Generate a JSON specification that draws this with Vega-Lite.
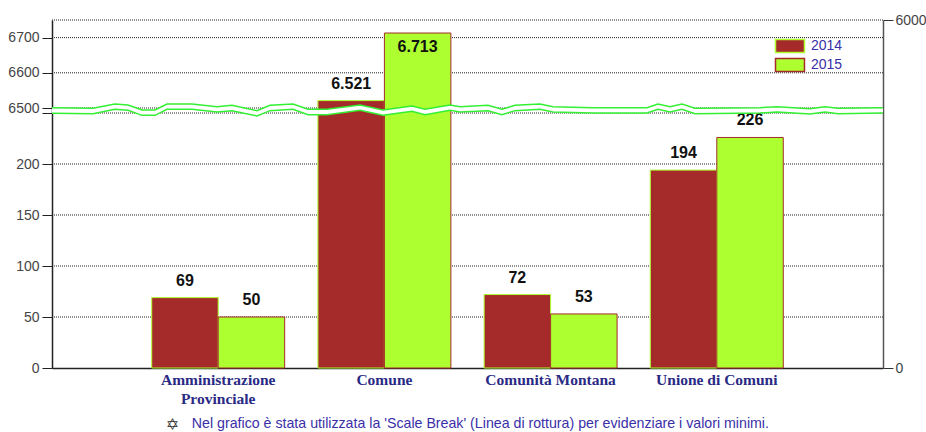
{"$schema":"https://vega.github.io/schema/vega-lite/v6.json","width":831,"height":348,"autosize":"none","padding":{"left":52,"top":20,"right":43,"bottom":64},"background":"white","view":{"stroke":null},"title":{"text":"Nel grafico è stata utilizzata la 'Scale Break' (Linea di rottura) per evidenziare i valori minimi.","orient":"bottom","anchor":"start","dx":184,"offset":-15,"font":"Liberation Sans","fontSize":14.2,"fontWeight":"normal","color":"#3a2fa8"},"datasets":{"bars":[{"categoria":"Amministrazione Provinciale","anno":"2014","valore":69,"etichetta":"69"},{"categoria":"Amministrazione Provinciale","anno":"2015","valore":50,"etichetta":"50"},{"categoria":"Comune","anno":"2014","valore":6521,"etichetta":"6.521"},{"categoria":"Comune","anno":"2015","valore":6713,"etichetta":"6.713"},{"categoria":"Comunità Montana","anno":"2014","valore":72,"etichetta":"72"},{"categoria":"Comunità Montana","anno":"2015","valore":53,"etichetta":"53"},{"categoria":"Unione di Comuni","anno":"2014","valore":194,"etichetta":"194"},{"categoria":"Unione di Comuni","anno":"2015","valore":226,"etichetta":"226"}],"griglia":[{"g":50},{"g":100},{"g":150},{"g":200},{"g":250},{"g":6500},{"g":6600},{"g":6700},{"g":6750}],"rottura":[{"pos":52,"top":4488,"bot":4391},{"pos":93,"top":4477,"bot":4385},{"pos":115,"top":4552,"bot":4460},{"pos":128,"top":4534,"bot":4442},{"pos":142,"top":4448,"bot":4356},{"pos":155,"top":4448,"bot":4356},{"pos":167,"top":4552,"bot":4460},{"pos":192,"top":4552,"bot":4460},{"pos":217,"top":4506,"bot":4414},{"pos":232,"top":4529,"bot":4437},{"pos":257,"top":4437,"bot":4345},{"pos":270,"top":4529,"bot":4437},{"pos":293,"top":4552,"bot":4460},{"pos":308,"top":4460,"bot":4368},{"pos":327,"top":4460,"bot":4368},{"pos":360,"top":4534,"bot":4442},{"pos":383,"top":4448,"bot":4356},{"pos":412,"top":4517,"bot":4425},{"pos":425,"top":4460,"bot":4368},{"pos":450,"top":4534,"bot":4442},{"pos":460,"top":4506,"bot":4414},{"pos":488,"top":4529,"bot":4437},{"pos":502,"top":4460,"bot":4368},{"pos":515,"top":4529,"bot":4437},{"pos":540,"top":4552,"bot":4460},{"pos":553,"top":4506,"bot":4414},{"pos":593,"top":4488,"bot":4396},{"pos":647,"top":4488,"bot":4396},{"pos":658,"top":4552,"bot":4460},{"pos":670,"top":4506,"bot":4414},{"pos":682,"top":4552,"bot":4460},{"pos":695,"top":4477,"bot":4385},{"pos":760,"top":4488,"bot":4396},{"pos":777,"top":4506,"bot":4414},{"pos":810,"top":4471,"bot":4379},{"pos":825,"top":4506,"bot":4414},{"pos":838,"top":4477,"bot":4385},{"pos":883,"top":4488,"bot":4396}]},"layer":[{"layer":[{"data":{"name":"griglia"},"mark":{"type":"rule","stroke":"#222222","strokeWidth":1,"strokeDash":[1,1]},"encoding":{"y":{"field":"g","type":"quantitative","title":null,"scale":{"domain":[0,250,6500,6750],"range":[348,93,88,0],"nice":false},"axis":{"orient":"left","values":[0,50,100,150,200,250,6500,6600,6700],"labelExpr":"datum.value==250?'':format(datum.value,'d')","grid":false,"tickSize":10,"tickColor":"#222222","domainColor":"#222222","domainWidth":1.5,"labelPadding":3,"labelFont":"Liberation Sans","labelFontSize":14,"labelColor":"#444444"}}}},{"data":{"name":"bars"},"mark":{"type":"bar","strokeWidth":1},"encoding":{"x":{"field":"categoria","type":"nominal","sort":null,"scale":{"paddingInner":0,"paddingOuter":0.5},"axis":{"title":"✡","titleX":120,"titleY":48,"titleFont":"DejaVu Sans","titleFontSize":16,"titleFontWeight":"bold","titleColor":"#333333","labelAngle":0,"labelAlign":"center","labelOverlap":false,"labelLimit":300,"ticks":false,"domainColor":"#222222","domainWidth":1.5,"labelPadding":4,"labelFont":"Liberation Serif","labelFontWeight":"bold","labelFontSize":15.5,"labelLineHeight":19,"labelColor":"#2a2a85","labelExpr":"datum.value=='Amministrazione Provinciale'?['Amministrazione','Provinciale']:datum.label"}},"xOffset":{"field":"anno","type":"nominal","scale":{"paddingInner":0,"paddingOuter":0.25}},"y":{"field":"valore","type":"quantitative","title":null},"fill":{"field":"anno","type":"nominal","scale":{"domain":["2014","2015"],"range":["#A52A2A","#ADFF2F"]},"legend":{"orient":"none","legendX":730,"legendY":18,"title":null,"symbolType":"M-2,-0.9H2V0.9H-2Z","symbolSize":210,"symbolStrokeWidth":1.5,"symbolOpacity":1,"rowPadding":-1,"labelOffset":13,"labelFont":"Liberation Sans","labelFontSize":14,"labelColor":"#3a2fa8","encode":{"symbols":{"update":{"stroke":{"signal":"datum.value=='2015'?'#333333':'#A52A2A'"}}}}}},"stroke":{"field":"anno","type":"nominal","scale":{"domain":["2014","2015"],"range":["#ADFF2F","#A52A2A"]},"legend":null}}},{"data":{"name":"bars"},"transform":[{"filter":"datum.valore<6700"}],"mark":{"type":"text","baseline":"alphabetic","dy":-12,"font":"Liberation Sans","fontWeight":"bold","fontSize":16,"fill":"#111111"},"encoding":{"x":{"field":"categoria","type":"nominal","sort":null},"xOffset":{"field":"anno","type":"nominal"},"y":{"field":"valore","type":"quantitative","title":null},"text":{"field":"etichetta","type":"nominal"}}},{"data":{"name":"bars"},"transform":[{"filter":"datum.valore>=6700"}],"mark":{"type":"text","baseline":"alphabetic","dy":19,"font":"Liberation Sans","fontWeight":"bold","fontSize":16,"fill":"#111111"},"encoding":{"x":{"field":"categoria","type":"nominal","sort":null},"xOffset":{"field":"anno","type":"nominal"},"y":{"field":"valore","type":"quantitative","title":null},"text":{"field":"etichetta","type":"nominal"}}}]},{"data":{"name":"rottura"},"layer":[{"mark":{"type":"area","fill":"white","opacity":1},"encoding":{"x":{"field":"pos","type":"quantitative","axis":null,"scale":{"domain":[52,883],"nice":false,"zero":false}},"y":{"field":"top","type":"quantitative","title":null,"scale":{"domain":[0,6000],"nice":false},"axis":{"orient":"right","values":[0,6000],"format":"d","grid":false,"tickSize":10,"tickColor":"#333333","domainColor":"#555555","domainWidth":1.5,"labelPadding":2,"labelFont":"Liberation Sans","labelFontSize":14,"labelColor":"#444444"}},"y2":{"field":"bot"}}},{"mark":{"type":"line","stroke":"#33F033","strokeWidth":1.5},"encoding":{"x":{"field":"pos","type":"quantitative"},"y":{"field":"top","type":"quantitative","title":null}}},{"mark":{"type":"line","stroke":"#33F033","strokeWidth":1.5},"encoding":{"x":{"field":"pos","type":"quantitative"},"y":{"field":"bot","type":"quantitative","title":null}}}]}],"resolve":{"scale":{"x":"independent","y":"independent"},"axis":{"x":"independent","y":"independent"}}}
